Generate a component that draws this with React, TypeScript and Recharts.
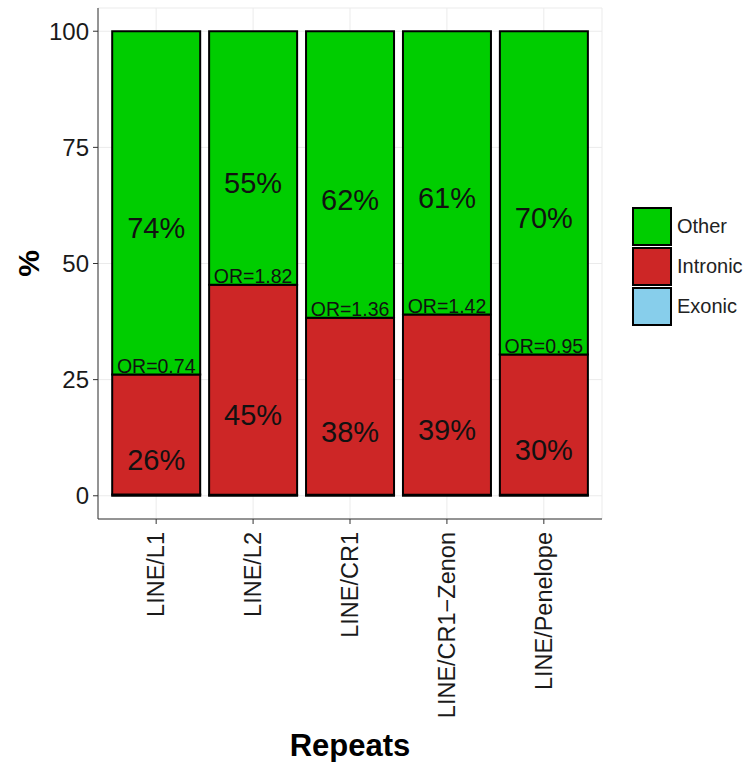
import React from 'react';
import {
  BarChart,
  Bar,
  XAxis,
  YAxis,
  CartesianGrid,
  LabelList,
  Label,
  Legend,
} from 'recharts';

// Share of each repeat family by genomic context (%)
const repeats = ['LINE/L1', 'LINE/L2', 'LINE/CR1', 'LINE/CR1\u2212Zenon', 'LINE/Penelope'];
const exonicPct = [0.3, 0.2, 0.2, 0.2, 0.2];
const intronicPct = [25.8, 45.2, 38.1, 38.8, 30.2];
const otherPct = [73.9, 54.6, 61.7, 61.0, 69.6];
const oddsRatios = ['0.74', '1.82', '1.36', '1.42', '0.95'];
const yTicks = [0, 25, 50, 75, 100];

const data = repeats.map((name, i) => ({
  name,
  Exonic: exonicPct[i],
  Intronic: intronicPct[i],
  Other: otherPct[i],
  or: oddsRatios[i],
}));

const FONT = '"Liberation Sans", Arial, Helvetica, sans-serif';
const COLORS = { Other: '#00CD00', Intronic: '#CD2626', Exonic: '#87CEEB' };
const LEGEND_ORDER = ['Other', 'Intronic', 'Exonic'];

const PctLabel = (props: any) => {
  const { x, y, width, height, value } = props;
  return (
    <text
      x={x + width / 2}
      y={y + height / 2 + 25}
      dy="0.36em"
      textAnchor="middle"
      fontSize={29}
      fontFamily={FONT}
      fill="#111"
    >
      {`${Math.round(value)}%`}
    </text>
  );
};

const OrLabel = (props: any) => {
  const { x, y, width, value } = props;
  return (
    <text x={x + width / 2} y={y - 2} textAnchor="middle" fontSize={19.5} fontFamily={FONT} fill="#111">
      {`OR=${value}`}
    </text>
  );
};

const XTick = (props: any) => {
  const { x, y, payload } = props;
  return (
    <text
      x={x}
      y={y}
      transform={`rotate(-90, ${x}, ${y})`}
      textAnchor="end"
      dy="0.35em"
      fontSize={23.5}
      fontFamily={FONT}
      fill="#1a1a1a"
    >
      {payload.value}
    </text>
  );
};

const renderLegend = (props: any) => {
  const items = [...(props.payload || [])].sort(
    (a: any, b: any) => LEGEND_ORDER.indexOf(a.value) - LEGEND_ORDER.indexOf(b.value)
  );
  return (
    <div style={{ display: 'flex', flexDirection: 'column', gap: 1 }}>
      {items.map((item: any) => (
        <div key={item.value} style={{ display: 'flex', alignItems: 'center', height: 39 }}>
          <div
            style={{
              width: 36,
              height: 35,
              background: item.color,
              border: '2px solid #000',
            }}
          />
          <span style={{ marginLeft: 5, fontSize: 20, fontFamily: FONT, color: '#222' }}>{item.value}</span>
        </div>
      ))}
    </div>
  );
};

export default function App() {
  return (
    <div style={{ position: 'absolute', left: 0, top: 0, background: '#fff' }}>
      <BarChart
        width={747}
        height={762}
        data={data}
        margin={{ top: 8, right: 145, bottom: 0, left: 0 }}
        barCategoryGap={4.5}
      >
        <CartesianGrid stroke="#EBEBEB" strokeWidth={1} />
        <XAxis
          dataKey="name"
          type="category"
          interval={0}
          height={243}
          padding={{ left: 9.7, right: 9.7 }}
          tick={<XTick />}
          tickSize={5}
          tickMargin={8}
          axisLine={{ stroke: '#333', strokeWidth: 1 }}
          tickLine={{ stroke: '#333', strokeWidth: 1 }}
        >
          <Label
            content={(p: any) => {
              const vb = p.viewBox;
              return (
                <text
                  x={vb.x + vb.width / 2}
                  y={vb.y + 237}
                  textAnchor="middle"
                  fontSize={31}
                  fontWeight="bold"
                  fontFamily={FONT}
                  fill="#000"
                >
                  Repeats
                </text>
              );
            }}
          />
        </XAxis>
        <YAxis
          type="number"
          domain={[-5, 105]}
          ticks={yTicks}
          width={98}
          tickSize={5}
          tickMargin={4}
          tick={{ fontSize: 24, fill: '#1a1a1a', fontFamily: FONT }}
          axisLine={{ stroke: '#333', strokeWidth: 1 }}
          tickLine={{ stroke: '#333', strokeWidth: 1 }}
        >
          <Label
            content={(p: any) => {
              const vb = p.viewBox;
              const cx = vb.x + 28;
              const cy = vb.y + vb.height / 2;
              return (
                <text
                  x={cx}
                  y={cy}
                  transform={`rotate(-90, ${cx}, ${cy})`}
                  textAnchor="middle"
                  dy="0.35em"
                  fontSize={30}
                  fontWeight="bold"
                  fontFamily={FONT}
                  fill="#000"
                >
                  %
                </text>
              );
            }}
          />
        </YAxis>
        <Legend
          layout="horizontal"
          verticalAlign="middle"
          align="center"
          content={renderLegend}
          wrapperStyle={{ left: 632, top: 207, width: 115, right: 'auto', bottom: 'auto' }}
        />
        <Bar dataKey="Exonic" stackId="a" fill={COLORS.Exonic} stroke="#000" strokeWidth={2} isAnimationActive={false} />
        <Bar dataKey="Intronic" stackId="a" fill={COLORS.Intronic} stroke="#000" strokeWidth={2} isAnimationActive={false}>
          <LabelList dataKey="Intronic" content={<PctLabel />} />
          <LabelList dataKey="or" content={<OrLabel />} />
        </Bar>
        <Bar dataKey="Other" stackId="a" fill={COLORS.Other} stroke="#000" strokeWidth={2} isAnimationActive={false}>
          <LabelList dataKey="Other" content={<PctLabel />} />
        </Bar>
      </BarChart>
    </div>
  );
}
